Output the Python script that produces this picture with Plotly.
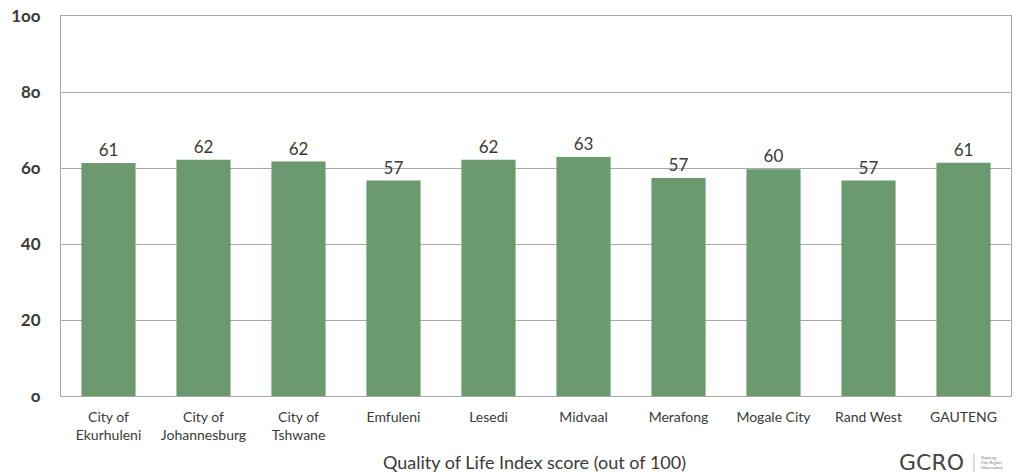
import plotly.graph_objects as go

# Quality of Life Index scores by municipality
categories = [
    "City of<br>Ekurhuleni", "City of<br>Johannesburg", "City of<br>Tshwane",
    "Emfuleni", "Lesedi", "Midvaal", "Merafong", "Mogale City",
    "Rand West", "GAUTENG",
]
scores = [61.3, 62.2, 61.7, 56.7, 62.2, 62.9, 57.4, 59.7, 56.7, 61.4]
y_ticks = [0, 20, 40, 60, 80, 100]
y_tick_labels = ["o", "20", "40", "6o", "8o", "1oo"]

BAR = "#6a9a6e"
GRID = "#a8a8a8"
TEXT = "#3a3a3a"
FONT = "Lato"

fig = go.Figure(
    go.Bar(
        x=categories,
        y=scores,
        marker=dict(color=BAR, line=dict(width=0)),
        texttemplate="%{y:.0f}",
        textposition="outside",
        textfont=dict(family=FONT, size=17, color=TEXT),
        cliponaxis=False,
    )
)

fig.update_layout(
    width=1024,
    height=474,
    margin=dict(l=61, r=13, t=16, b=78, autoexpand=False),
    paper_bgcolor="white",
    plot_bgcolor="white",
    bargap=0.43,
    showlegend=False,
    font=dict(family=FONT, color=TEXT),
)

fig.update_xaxes(
    showgrid=False,
    showline=True,
    linecolor=GRID,
    linewidth=1,
    mirror=True,
    ticks="",
    automargin=False,
    ticklabelstandoff=8,
    tickfont=dict(family=FONT, size=14, color=TEXT),
)

fig.update_yaxes(
    range=[0, 100],
    tickvals=y_ticks,
    ticktext=y_tick_labels,
    showgrid=True,
    gridcolor=GRID,
    gridwidth=1,
    zeroline=False,
    showline=True,
    linecolor=GRID,
    linewidth=1,
    mirror=True,
    ticks="",
    automargin=False,
    ticklabelstandoff=16,
    tickfont=dict(family=FONT, size=17, color=TEXT, weight="bold"),
)

# Axis caption under the chart
fig.add_annotation(
    text="Quality of Life Index score (out of 100)",
    xref="paper", yref="paper",
    x=0.498, y=-0.174, xanchor="center", yanchor="middle",
    showarrow=False,
    font=dict(family=FONT, size=18, color=TEXT),
)

# Organisation mark, bottom right
fig.add_annotation(
    text="GCRO",
    xref="paper", yref="paper",
    x=0.953, y=-0.176, xanchor="right", yanchor="middle",
    showarrow=False,
    font=dict(family="DejaVu Sans", size=22, color="#444444"),
)
fig.add_shape(
    type="line", xref="paper", yref="paper",
    x0=0.961, x1=0.961, y0=-0.152, y1=-0.2,
    line=dict(color="#bbbbbb", width=1),
)
fig.add_annotation(
    text="Gauteng<br>City-Region<br>Observatory",
    xref="paper", yref="paper",
    x=0.966, y=-0.176, xanchor="left", yanchor="middle",
    showarrow=False, align="left",
    font=dict(family=FONT, size=4, color="#777777"),
)

fig.write_html("out.html")
